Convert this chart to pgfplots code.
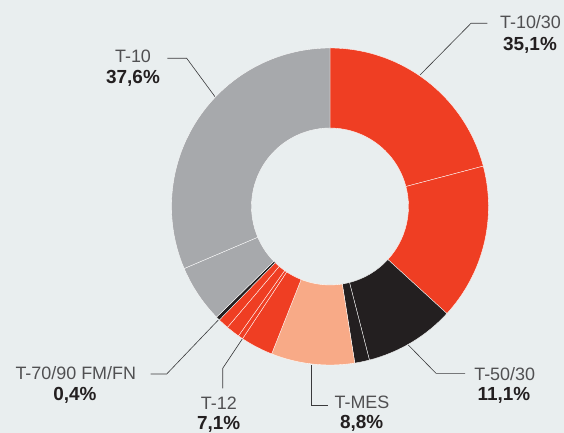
\documentclass[border=0pt]{standalone}
\usepackage{pgfplots}
\pgfplotsset{compat=1.18}
\usepackage{pgfplotstable}
\usepackage{fontspec}
\setmainfont{Liberation Sans}
\definecolor{bg}{HTML}{E9EEEF}
\definecolor{cred}{HTML}{EF3E23}
\definecolor{cblack}{HTML}{231F20}
\definecolor{csalmon}{HTML}{F8AA87}
\definecolor{cgray}{HTML}{A7A9AC}
\definecolor{ctext}{HTML}{505052}
\definecolor{cbold}{HTML}{231F20}
\definecolor{cline}{HTML}{3A3A3C}

% slice shares in percent, clockwise from 12 o'clock
% c: 0 red, 1 black, 2 salmon, 3 gray
\pgfplotstableread{
v c
20.9 0
15.9 0
9.2 1
1.5 1
8.5 2
3.3 0
0.5 0
1.4 0
1.1 0
0.4 1
5.9 3
31.4 3
}\slices
\pgfplotstablecreatecol[create col/expr accum={\pgfmathaccuma+\thisrow{v}}{0}]{cum}{\slices}

\begin{document}
\begin{tikzpicture}
\begin{axis}[
  x=1bp, y=1bp, xmin=0, xmax=564, ymin=0, ymax=433,
  y dir=reverse, hide axis, scale only axis, clip=false,
]
\fill[bg] (rel axis cs:0,0) rectangle (rel axis cs:1,1);

\addplot[scatter, only marks, mark=text, text mark={},
  point meta=\thisrow{cum},
  visualization depends on={\thisrow{cum} \as \cum},
  visualization depends on={\thisrow{v} \as \val},
  visualization depends on={\thisrow{c} \as \cidx},
  scatter/@pre marker code/.code={%
    \pgfmathsetmacro\aa{90-3.6*(\cum-\val)}%
    \pgfmathsetmacro\bb{90-3.6*\cum}%
    \pgfmathtruncatemacro\ci{\cidx}%
    \ifcase\ci\def\colname{cred}\or\def\colname{cblack}\or\def\colname{csalmon}\else\def\colname{cgray}\fi
    \fill[fill=\colname, draw=white, line width=0.35bp, line join=round]
      (\aa:158.5bp) arc[start angle=\aa, end angle=\bb, radius=158.5bp]
      -- (\bb:78.5bp) arc[start angle=\bb, end angle=\aa, radius=78.5bp] -- cycle;
  },
  scatter/@post marker code/.code={},
] table[x expr=330, y expr=206.5] {\slices};

% leader lines
\begin{scope}[cline, line width=0.6bp]
\draw (axis cs:420,75) -- (axis cs:471,23.3) -- (axis cs:487.3,23.3);
\draw (axis cs:167.3,58.3) -- (axis cs:186.7,58.3) -- (axis cs:215,96.7);
\draw (axis cs:408.3,345) -- (axis cs:436,373.3) -- (axis cs:465,373.3);
\draw (axis cs:150.7,374) -- (axis cs:166.7,374) -- (axis cs:218.3,320);
\draw (axis cs:222.7,388.3) -- (axis cs:222.7,368.3) -- (axis cs:242.7,338.3);
\draw (axis cs:311.7,365) -- (axis cs:311.7,405) -- (axis cs:328.3,405);
\end{scope}

% labels
\tikzset{lab/.style={anchor=base, inner sep=0pt, text=ctext, font=\fontsize{18}{22}\selectfont},
         val/.style={anchor=base, inner sep=0pt, text=cbold, font=\fontsize{19}{22}\selectfont\bfseries}}
\node[lab] at (axis cs:530.5,28.3) {T-10/30};
\node[val] at (axis cs:530,50.7) {35,1\%};
\node[lab] at (axis cs:133,62.7) {T-10};
\node[val] at (axis cs:133,84) {37,6\%};
\node[lab] at (axis cs:504.7,380) {T-50/30};
\node[val] at (axis cs:504,400.7) {11,1\%};
\node[lab] at (axis cs:75.8,379.3) {T-70/90 FM/FN};
\node[val] at (axis cs:75,400.7) {0,4\%};
\node[lab] at (axis cs:218.8,409) {T-12};
\node[val] at (axis cs:218.7,429.3) {7,1\%};
\node[lab] at (axis cs:362,408.3) {T-MES};
\node[val] at (axis cs:361.7,428.3) {8,8\%};
\end{axis}
\end{tikzpicture}
\end{document}
